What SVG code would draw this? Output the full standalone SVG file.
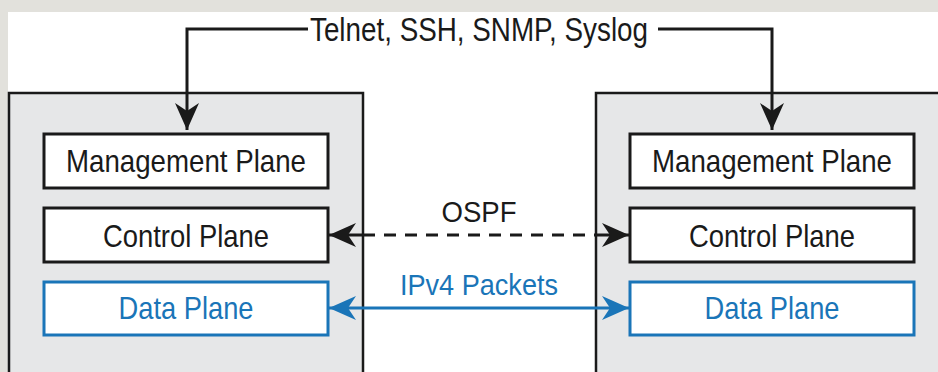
<svg xmlns="http://www.w3.org/2000/svg" width="938" height="372" viewBox="0 0 938 372">
  <style>
    .device { fill: #e6e7e8; stroke: #1a1a1a; stroke-width: 2.5; }
    .plane { fill: #ffffff; stroke: #1a1a1a; stroke-width: 3; }
    .plane-data { fill: #ffffff; stroke: #1a75b8; stroke-width: 3; }
    .label { font-family: "Liberation Sans", Arial, Helvetica, sans-serif; fill: #1a1a1a; text-anchor: middle; }
    .box-label { font-size: 32px; }
    .blue { fill: #1a75b8; }
    .conn { fill: none; stroke: #1a1a1a; stroke-width: 3; }
    .conn-blue { fill: none; stroke: #1a75b8; stroke-width: 3; }
  </style>
  <defs>
    <marker id="arrow-black" markerUnits="userSpaceOnUse" markerWidth="28" markerHeight="26" refX="27" refY="13" orient="auto-start-reverse" viewBox="0 0 28 26">
      <path d="M27,13 L0,1 L8,13 L0,25 Z" fill="#1a1a1a"/>
    </marker>
    <marker id="arrow-blue" markerUnits="userSpaceOnUse" markerWidth="28" markerHeight="26" refX="27" refY="13" orient="auto-start-reverse" viewBox="0 0 28 26">
      <path d="M27,13 L0,1 L8,13 L0,25 Z" fill="#1a75b8"/>
    </marker>
  </defs>

  <rect x="0" y="0" width="938" height="372" fill="#e2e1dc"/>
  <rect x="8" y="12" width="930" height="360" fill="#ffffff"/>

  <g id="router-left">
    <rect class="device" x="9" y="93" width="354" height="300"/>
  </g>
  <g id="router-right">
    <rect class="device" x="596" y="93" width="360" height="300"/>
  </g>

  <g id="left-management-plane">
    <rect class="plane" x="44" y="134" width="284" height="54"/>
    <text class="label box-label" x="186" y="172" textLength="240" lengthAdjust="spacingAndGlyphs">Management Plane</text>
  </g>
  <g id="left-control-plane">
    <rect class="plane" x="44" y="208" width="284" height="54"/>
    <text class="label box-label" x="186" y="247" textLength="166" lengthAdjust="spacingAndGlyphs">Control Plane</text>
  </g>
  <g id="left-data-plane">
    <rect class="plane-data" x="44" y="282" width="284" height="53"/>
    <text class="label box-label blue" x="186" y="319" textLength="135" lengthAdjust="spacingAndGlyphs">Data Plane</text>
  </g>

  <g id="right-management-plane">
    <rect class="plane" x="630" y="134" width="284" height="54"/>
    <text class="label box-label" x="772" y="172" textLength="240" lengthAdjust="spacingAndGlyphs">Management Plane</text>
  </g>
  <g id="right-control-plane">
    <rect class="plane" x="630" y="208" width="284" height="54"/>
    <text class="label box-label" x="772" y="247" textLength="166" lengthAdjust="spacingAndGlyphs">Control Plane</text>
  </g>
  <g id="right-data-plane">
    <rect class="plane-data" x="630" y="282" width="284" height="53"/>
    <text class="label box-label blue" x="772" y="319" textLength="135" lengthAdjust="spacingAndGlyphs">Data Plane</text>
  </g>

  <g id="connectors">
    <path class="conn" d="M308,29 H187 V130" marker-end="url(#arrow-black)"/>
    <path class="conn" d="M658,29 H772 V130" marker-end="url(#arrow-black)"/>
    <text class="label" x="479" y="41" font-size="33" textLength="338" lengthAdjust="spacingAndGlyphs">Telnet, SSH, SNMP, Syslog</text>

    <path class="conn" d="M363,235 H329" marker-end="url(#arrow-black)"/>
    <path class="conn" d="M363,235 H596" stroke-dasharray="12 9"/>
    <path class="conn" d="M596,235 H629" marker-end="url(#arrow-black)"/>
    <text class="label" x="479" y="222" font-size="29" textLength="75" lengthAdjust="spacingAndGlyphs">OSPF</text>

    <path class="conn-blue" d="M329,308 H629" marker-start="url(#arrow-blue)" marker-end="url(#arrow-blue)"/>
    <text class="label blue" x="479" y="295" font-size="29" textLength="158" lengthAdjust="spacingAndGlyphs">IPv4 Packets</text>
  </g>
</svg>
